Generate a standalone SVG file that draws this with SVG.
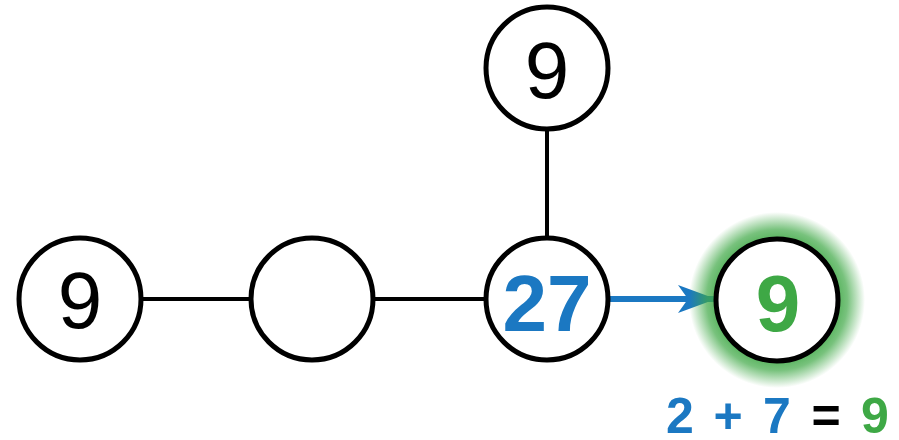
<svg xmlns="http://www.w3.org/2000/svg" width="899" height="440" viewBox="0 0 899 440">
  <style>
    .node { fill: #ffffff; stroke: #000000; stroke-width: 5; }
    .edge { stroke: #000000; stroke-width: 4; fill: none; }
    .num { font-family: "Liberation Sans", Arial, sans-serif; font-size: 80px; text-anchor: middle; fill: #000000; }
    .bold { font-weight: bold; }
    .blue { fill: #1b78c2; }
    .green { fill: #3ea845; }
    .eq { font-family: "Liberation Sans", Arial, sans-serif; font-size: 50px; font-weight: bold; text-anchor: middle; }
  </style>
  <defs>
    <radialGradient id="glow" cx="0.5" cy="0.5" r="0.5">
      <stop offset="0.6" stop-color="#3ea845" stop-opacity="1"/>
      <stop offset="0.8" stop-color="#3ea845" stop-opacity="0.7"/>
      <stop offset="1" stop-color="#3ea845" stop-opacity="0"/>
    </radialGradient>
    <marker id="arrow" markerWidth="38" markerHeight="30" refX="36" refY="15" orient="auto" markerUnits="userSpaceOnUse" viewBox="0 0 38 30">
      <path d="M0,1 L38,15 L0,29 L10,15 Z" fill="#1b78c2"/>
    </marker>
  </defs>

  <!-- connectors -->
  <g id="edges">
    <line class="edge" x1="143" y1="299" x2="251" y2="299"/>
    <line class="edge" x1="373" y1="299" x2="487" y2="299"/>
    <line class="edge" x1="547" y1="128" x2="547" y2="239"/>
    <line x1="609" y1="299" x2="714" y2="299" stroke="#1b78c2" stroke-width="6" marker-end="url(#arrow)"/>
  </g>

  <g id="node-left">
    <circle class="node" cx="80" cy="299" r="61"/>
    <text class="num" x="80" y="328">9</text>
  </g>

  <g id="node-middle">
    <circle class="node" cx="312" cy="299" r="61"/>
  </g>

  <g id="node-top">
    <circle class="node" cx="547" cy="68" r="61"/>
    <text class="num" x="547" y="98">9</text>
  </g>

  <g id="node-center">
    <circle class="node" cx="547" cy="299" r="61"/>
    <text class="num bold blue" x="547" y="331" font-size="86">27</text>
  </g>

  <g id="node-result">
    <circle cx="777" cy="300" r="88" fill="url(#glow)"/>
    <circle class="node" cx="777" cy="300" r="61"/>
    <text class="num bold green" x="778" y="331" font-size="86">9</text>
  </g>

  <g id="sum">
    <text class="eq blue" x="680" y="433">2</text>
    <text class="eq blue" x="728" y="433">+</text>
    <text class="eq blue" x="777" y="433">7</text>
    <text class="eq" x="826" y="433" fill="#000000">=</text>
    <text class="eq green" x="875" y="433">9</text>
  </g>
</svg>
